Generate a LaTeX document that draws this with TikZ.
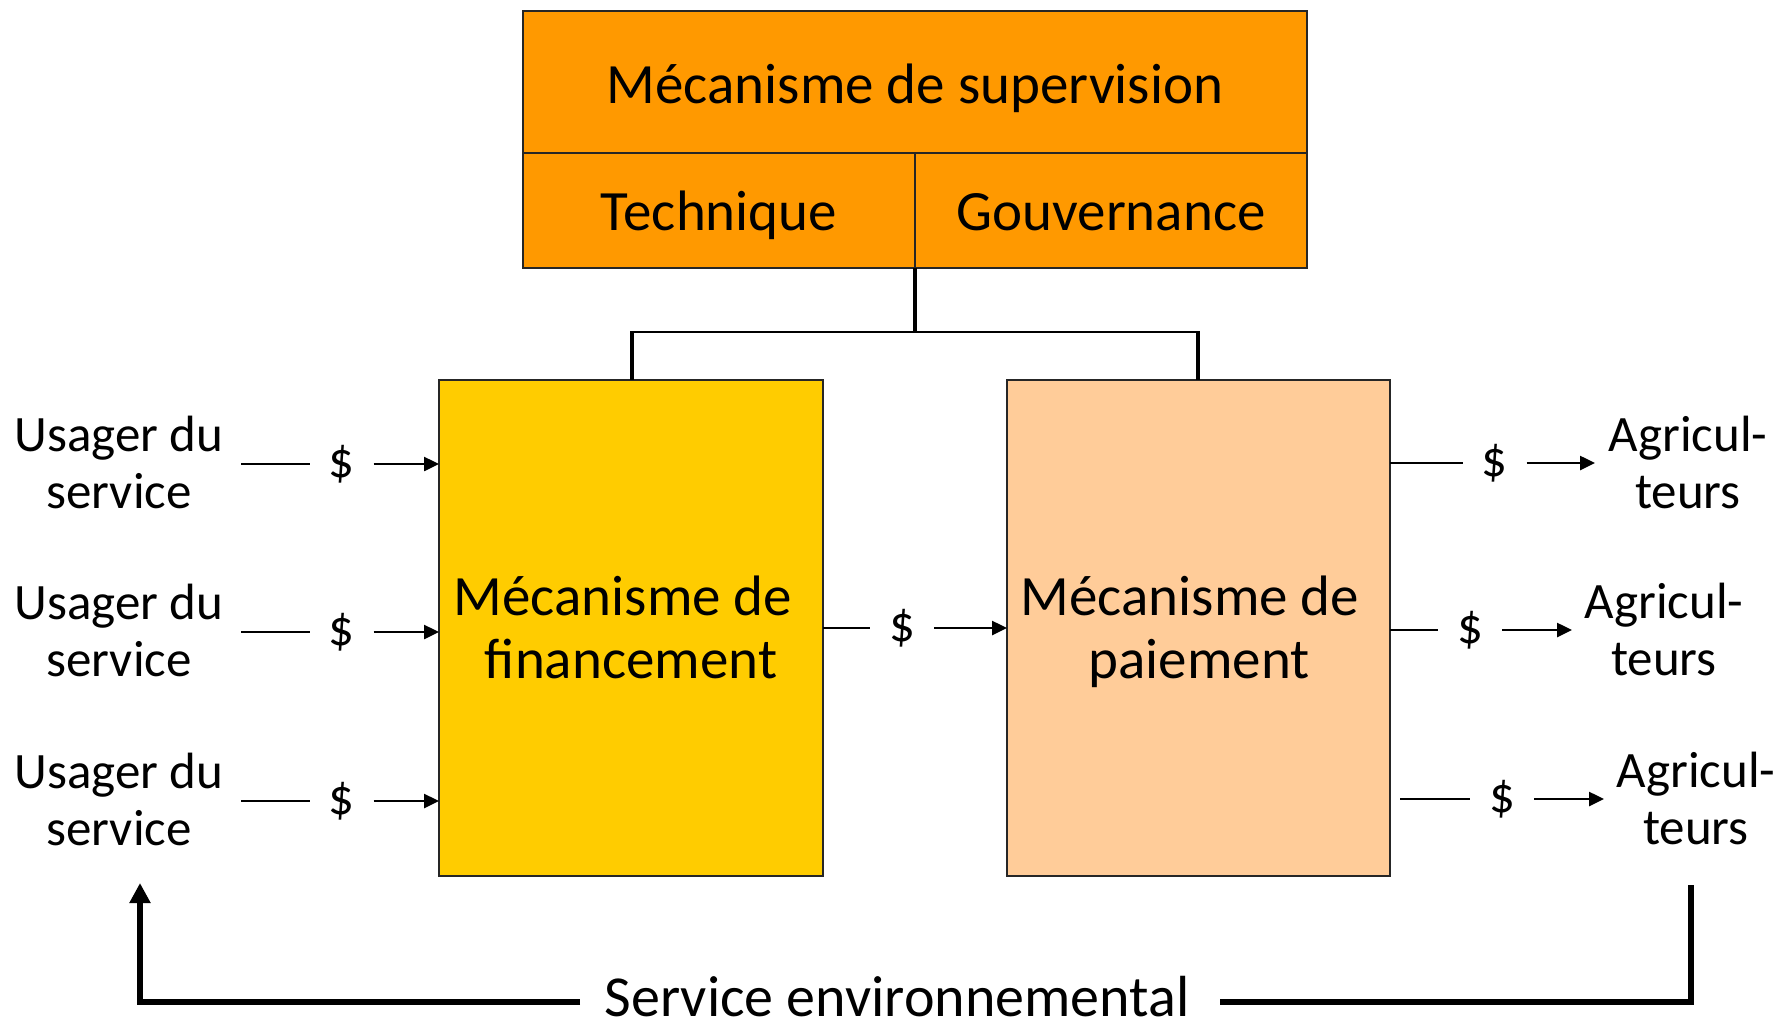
\documentclass[tikz,border=0pt]{standalone}
\usepackage{fontspec}
\setmainfont{Carlito}
\usetikzlibrary{arrows.meta}
\definecolor{supor}{HTML}{FF9900}
\definecolor{finy}{HTML}{FFCC00}
\definecolor{paypeach}{HTML}{FFCC99}
\begin{document}
\begin{tikzpicture}[x=1pt,y=-1pt,
  cell/.style={draw=black!85, line width=2pt, inner sep=0pt, outer sep=0pt, anchor=north west},
  big/.style={font=\fontsize{57}{63}\selectfont, inner sep=0pt, anchor=base},
  small/.style={font=\fontsize{51}{57}\selectfont, inner sep=0pt, anchor=base},
  dollar/.style={font=\fontsize{51}{57}\selectfont, inner sep=0pt, outer sep=0pt, minimum width=64pt, minimum height=40pt},
  flow/.style={line width=2.5pt},
  flowarr/.style={line width=2.5pt, -{Triangle[length=15pt,width=14pt]}},
  conn/.style={line width=4pt},
  fb/.style={line width=6pt}
]
\useasboundingbox (0,0) rectangle (1782,1026);
% boxes
\node[cell, fill=supor, minimum width=784pt, minimum height=142pt] (sup) at (523,11) {};
\node[cell, fill=supor, minimum width=392pt, minimum height=115pt] (tech) at (523,153) {};
\node[cell, fill=supor, minimum width=392pt, minimum height=115pt] (gouv) at (915,153) {};
\node[cell, fill=finy, minimum width=384pt, minimum height=496pt] (fin) at (439,380) {};
\node[cell, fill=paypeach, minimum width=383pt, minimum height=496pt] (pay) at (1007,380) {};
% box texts
\node[big] (tsup) at (915,103) {Mécanisme de supervision};
\node[big] (ttech) at (719,230) {Technique};
\node[big] (tgouv) at (1111,230) {Gouvernance};
\node[big] (tfin1) at (623,615) {Mécanisme de};
\node[big] (tfin2) at (631,678) {financement};
\node[big] (tpay1) at (1190,615) {Mécanisme de};
\node[big] (tpay2) at (1199,678) {paiement};
% tree connector
\coordinate (junc) at (915,332);
\coordinate (jl) at (632,332);
\coordinate (jr) at (1198,332);
\draw[conn] (tech.south east) -- (junc);
\draw[line width=2pt] (jl) -- (jr);
\draw[conn] ([yshift=1pt]jl) -- (jl |- fin.north);
\draw[conn] ([yshift=1pt]jr) -- (jr |- pay.north);
% left flows
\foreach \y/\i in {464/1,632/2,801/3}{
  \node[small] (ua\i) at (119,\y-13) {Usager du};
  \node[small] (ub\i) at (119,\y+44) {service};
  \node[dollar] (ld\i) at (341.5,\y) {\$};
  \coordinate (ls\i) at (241,\y);
  \draw[flow] (ls\i) -- (ld\i.west);
  \draw[flowarr] (ld\i.east) -- (ld\i.east -| fin.west);
}
% middle flow
\node[dollar] (md) at (902,628) {\$};
\draw[flow] (fin.east |- md) -- (md.west);
\draw[flowarr] (md.east) -- (pay.west |- md);
% right flows
\foreach \y/\d/\s/\e/\l/\i in {463/1494.5/1390/1595/1688/1,630/1470/1390/1572/1664/2,799/1502/1400/1604/1696/3}{
  \node[dollar] (rd\i) at (\d,\y) {\$};
  \coordinate (rs\i) at (\s,\y);
  \coordinate (re\i) at (\e,\y);
  \node[small] (ra\i) at (\l,\y-12) {Agricul-};
  \node[small] (rb\i) at (\l,\y+45) {teurs};
  \draw[flow] (rs\i) -- (rd\i.west);
  \draw[flowarr] (rd\i.east) -- (re\i);
}
% feedback
\node[font=\fontsize{58}{64}\selectfont, inner sep=0pt, text depth=0pt, anchor=base] (env) at (897,1016) {Service environnemental};
\coordinate (fbl) at (140,1002);
\coordinate (fbltip) at (140,883);
\coordinate (fbr) at (1691,1002);
\coordinate (fbrtop) at (1691,885);
\coordinate (envl) at (580,1002);
\coordinate (envr) at (1220,1002);
\draw[fb, -{Triangle[length=20pt,width=20pt]}] (envl) -- (fbl) -- (fbltip);
\draw[fb] (envr) -- (fbr) -- (fbrtop);
\end{tikzpicture}
\end{document}
